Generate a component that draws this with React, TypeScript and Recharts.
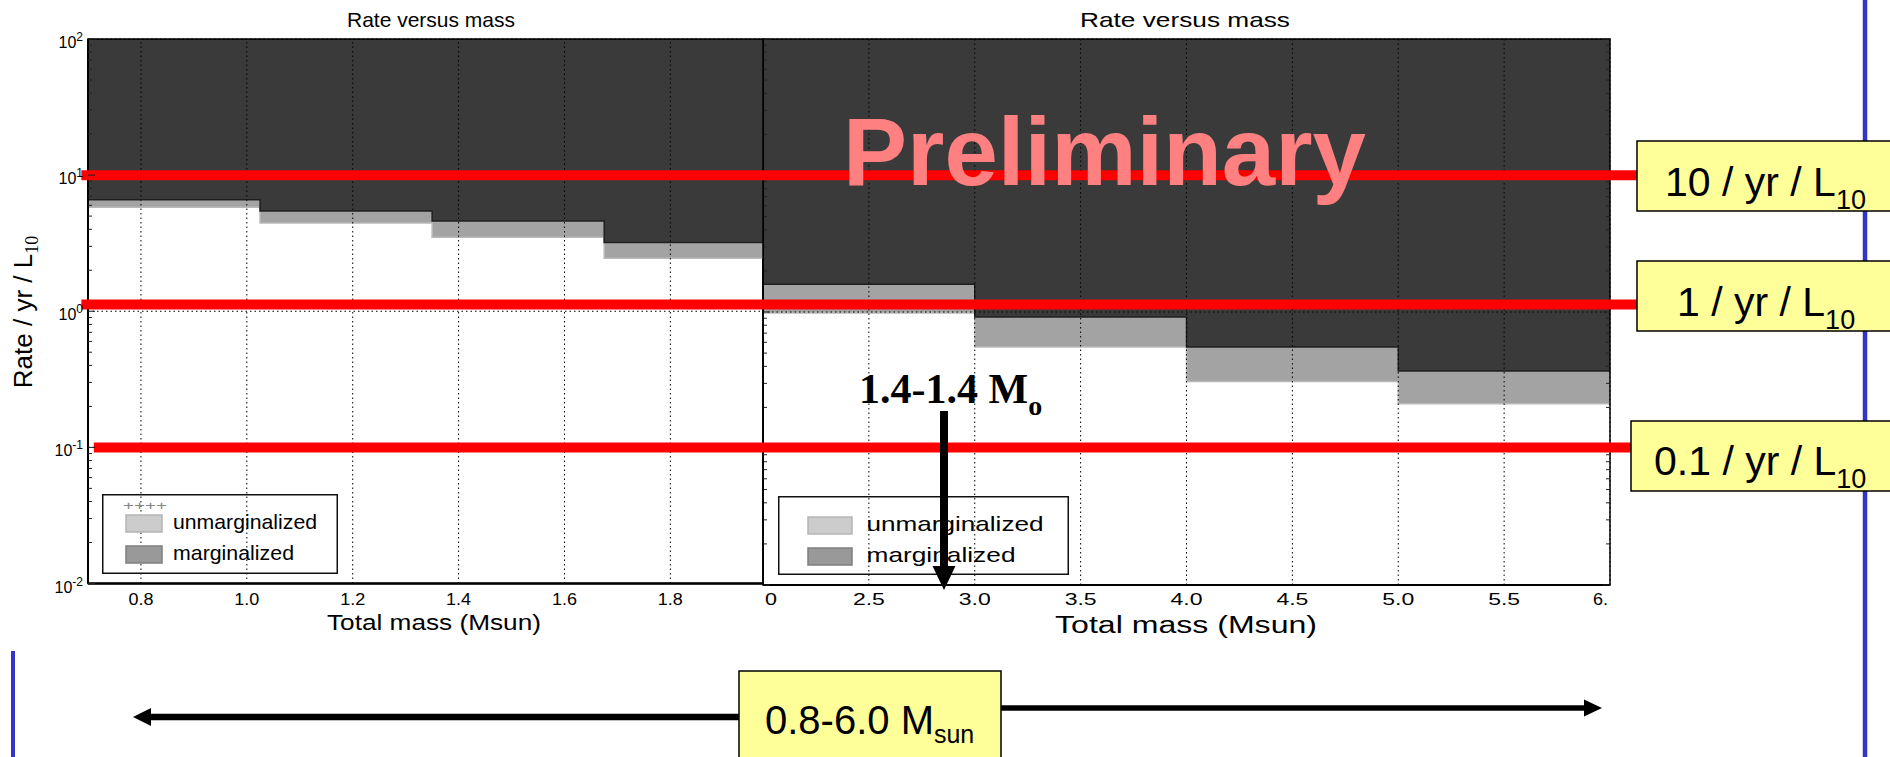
import React from "react";
import { Area, ComposedChart, Legend, ReferenceArea, ReferenceLine, XAxis, YAxis } from "recharts";

// mass bins (Msun) and rate limits (/yr/L10)
const leftBinEdges = [0.7, 1.025, 1.35, 1.675, 2.0];
const leftUpperLimit = [6.6, 5.45, 4.6, 3.2];
const leftLowerLimit = [5.8, 4.45, 3.5, 2.45];

const rightBinEdges = [2.0, 3.0, 4.0, 5.0, 6.0];
const rightUpperLimit = [1.6, 0.92, 0.555, 0.37];
const rightLowerLimit = [0.985, 0.553, 0.31, 0.213];

const leftMassTicks = [0.8, 1.0, 1.2, 1.4, 1.6, 1.8];
const rightMassTicks = [2.0, 2.5, 3.0, 3.5, 4.0, 4.5, 5.0, 5.5, 6.0];
const rateDecades = [0.01, 0.1, 1, 10, 100];
const minorMultipliers = [2, 3, 4, 5, 6, 7, 8, 9];

// red guide lines laid over both panels
const guideRates = [10, 1.12, 0.1];
const guideFrom = [0.6875, 0.6875, 0.711];
const guideTo = [3.636, 3.636, 3.625];

const legendEntries = ["unmarginalized", "marginalized"];
const legendFills = ["#cccccc", "#999999"];
const legendEdges = ["#b5b5b5", "#7f7f7f"];

const RATE_MAX = 100;
const FONT = "'Liberation Sans', Arial, Helvetica, sans-serif";
const SERIF = "'Liberation Serif', 'Times New Roman', serif";
const DARK = "#3a3a3a";
const BAND = "#a3a3a3";

const rateTicks = rateDecades.flatMap((d, i) =>
  i === rateDecades.length - 1 ? [d] : [d, ...minorMultipliers.map((m) => d * m)]
);

function buildSteps(edges: number[], upper: number[], lower: number[]) {
  return edges.map((mass, i) => {
    const k = Math.min(i, upper.length - 1);
    return { mass, band: [lower[k], upper[k]], excluded: [upper[k], RATE_MAX] };
  });
}

const leftData = buildSteps(leftBinEdges, leftUpperLimit, leftLowerLimit);
const rightData = buildSteps(rightBinEdges, rightUpperLimit, rightLowerLimit);

function RateTick(props: any) {
  const { x, y, payload, side, labelled } = props;
  const lg = Math.log10(payload.value);
  const e = Math.round(lg);
  const major = Math.abs(lg - e) < 1e-6;
  const dir = side === "right" ? -1 : 1;
  return (
    <g>
      <line x1={x} x2={x + dir * (major ? 7 : 4)} y1={y} y2={y} stroke="#222" strokeWidth={1} />
      {labelled && major && (
        <text x={x - 5} y={y + 9} textAnchor="end" fontFamily={FONT} fontSize={16} fill="#000">
          10
          <tspan dy={-7} fontSize={12}>
            {e}
          </tspan>
        </text>
      )}
    </g>
  );
}

function LeftMassTick(props: any) {
  const { x, y, payload } = props;
  return (
    <text x={x} y={y + 21} textAnchor="middle" fontFamily={FONT} fontSize={17} fill="#000"
      textLength={25} lengthAdjust="spacingAndGlyphs">
      {payload.value.toFixed(1)}
    </text>
  );
}

function RightMassTick(props: any) {
  const { x, y, payload } = props;
  const v = payload.value;
  // left end is half hidden under the first panel, right end is cut by the crop
  if (v === 2) {
    return (
      <text x={x + 2} y={y + 20} fontFamily={FONT} fontSize={17} textLength={12} lengthAdjust="spacingAndGlyphs">
        0
      </text>
    );
  }
  if (v === 6) {
    return (
      <text x={x - 17} y={y + 20} fontFamily={FONT} fontSize={17} textLength={15} lengthAdjust="spacingAndGlyphs">
        6.
      </text>
    );
  }
  return (
    <text x={x} y={y + 20} textAnchor="middle" fontFamily={FONT} fontSize={17} fill="#000"
      textLength={32} lengthAdjust="spacingAndGlyphs">
      {v.toFixed(1)}
    </text>
  );
}

function LegendBox({ w, h, px, pw, rows, tx, lens, size, plus }: any) {
  return (
    <svg width={w} height={h} style={{ display: "block" }}>
      <rect x={0.75} y={0.75} width={w - 1.5} height={h - 1.5} fill="none" stroke="#111" strokeWidth={1.5} />
      {plus && (
        <text x={21} y={16} fontFamily={FONT} fontSize={12} fill="#888" textLength={44} lengthAdjust="spacingAndGlyphs">
          ++++
        </text>
      )}
      {legendEntries.map((name, i) => (
        <g key={name}>
          <rect x={px} y={rows[i]} width={pw} height={17} fill={legendFills[i]} stroke={legendEdges[i]} strokeWidth={1.5} />
          <text x={tx} y={rows[i] + 13.5} fontFamily={FONT} fontSize={size} fill="#000"
            textLength={lens[i]} lengthAdjust="spacingAndGlyphs">
            {name}
          </text>
        </g>
      ))}
    </svg>
  );
}

function SubText({ x, y, size, main, sub, subSize, dy, family, bold }: any) {
  return (
    <text x={x} y={y} fontFamily={family || FONT} fontSize={size} fontWeight={bold ? "bold" : "normal"} fill="#000">
      {main}
      <tspan dy={dy} fontSize={subSize}>
        {sub}
      </tspan>
    </text>
  );
}

function Annotations() {
  return (
    <svg width={1890} height={757} style={{ position: "absolute", left: 0, top: 0 }}>
      <text x={843} y={185} fontFamily={FONT} fontWeight="bold" fontSize={96} fill="#ff8080">
        Preliminary
      </text>

      <line x1={1865} x2={1865} y1={0} y2={757} stroke="#3434c8" strokeWidth={4.5} />
      <line x1={13} x2={13} y1={651} y2={757} stroke="#3434c8" strokeWidth={4} />

      <rect x={1637} y={141} width={270} height={70} fill="#ffff99" stroke="#000" strokeWidth={1.5} />
      <SubText x={1665} y={196} size={41} main="10 / yr / L" sub="10" subSize={27} dy={13} />
      <rect x={1637} y={261} width={270} height={70} fill="#ffff99" stroke="#000" strokeWidth={1.5} />
      <SubText x={1677} y={316} size={41} main="1 / yr / L" sub="10" subSize={27} dy={13} />
      <rect x={1631} y={421} width={270} height={70} fill="#ffff99" stroke="#000" strokeWidth={1.5} />
      <SubText x={1654} y={475} size={41} main="0.1 / yr / L" sub="10" subSize={27} dy={13} />

      <line x1={746} x2={148} y1={717} y2={717} stroke="#000" strokeWidth={6.5} />
      <polygon points="133,717 151,708 151,726" fill="#000" />
      <line x1={1001} x2={1588} y1={708} y2={708} stroke="#000" strokeWidth={5.5} />
      <polygon points="1602,708 1584,699.5 1584,716.5" fill="#000" />
      <rect x={739} y={671} width={262} height={100} fill="#ffff99" stroke="#000" strokeWidth={1.5} />
      <SubText x={765} y={734} size={40} main="0.8-6.0 M" sub="sun" subSize={25} dy={9} />

      <SubText x={859} y={403} size={42} main="1.4-1.4 M" sub="o" subSize={28} dy={12} family={SERIF} bold />
      <line x1={944} x2={944} y1={411} y2={570} stroke="#000" strokeWidth={8} />
      <polygon points="944,590 932.5,566 955.5,566" fill="#000" />
    </svg>
  );
}

function RightPanel() {
  return (
    <ComposedChart width={1890} height={757} data={rightData}
      margin={{ top: 39, right: 270, bottom: 122, left: 743 }}>
      <XAxis dataKey="mass" type="number" domain={[2, 6]} ticks={rightMassTicks} interval={0}
        allowDataOverflow height={50} tickLine={false} tickSize={0} tickMargin={0}
        axisLine={{ stroke: "#000", strokeWidth: 2 }} tick={<RightMassTick />} />
      <YAxis yAxisId="left" scale="log" domain={[0.01, RATE_MAX]} allowDataOverflow ticks={rateTicks}
        interval={0} width={20} tickLine={false} tickSize={0} tickMargin={0}
        axisLine={{ stroke: "#000", strokeWidth: 1.5 }} tick={<RateTick side="left" />} />
      <YAxis yAxisId="right" orientation="right" scale="log" domain={[0.01, RATE_MAX]} allowDataOverflow
        ticks={rateTicks} interval={0} width={10} tickLine={false} tickSize={0} tickMargin={0}
        axisLine={false} tick={<RateTick side="right" />} />
      <Area yAxisId="left" dataKey="band" type="stepAfter" fill={BAND} fillOpacity={1} stroke="#b9b9b9"
        strokeWidth={1.5} dot={false} activeDot={false} isAnimationActive={false} />
      <Area yAxisId="left" dataKey="excluded" type="stepAfter" fill={DARK} fillOpacity={1} stroke="#1e1e1e"
        strokeWidth={1.5} dot={false} activeDot={false} isAnimationActive={false} />
      {rightMassTicks.map((m) => (
        <ReferenceLine key={"x" + m} yAxisId="left" x={m} stroke="#000" strokeWidth={1}
          strokeDasharray="1.5 3" zIndex={600} />
      ))}
      {rateDecades.map((r) => (
        <ReferenceLine key={"y" + r} yAxisId="left" y={r} stroke="#000" strokeWidth={1}
          strokeDasharray="1.5 3" zIndex={600} />
      ))}
      <ReferenceArea yAxisId="left" x1={2} x2={6} y1={0.01} y2={RATE_MAX} fill="none" fillOpacity={0}
        stroke="#000" strokeWidth={1.5} zIndex={650} />
      <Legend layout="vertical" align="center" verticalAlign="middle" width={291} height={79}
        wrapperStyle={{ left: 778, top: 496, width: 291, height: 79 }}
        content={() => (
          <LegendBox w={291} h={79} px={30} pw={44} rows={[21, 52]} tx={88.5} lens={[177, 149]} size={21} />
        )} />
      <text x={1185} y={27} textAnchor="middle" fontFamily={FONT} fontSize={21} textLength={210}
        lengthAdjust="spacingAndGlyphs">
        Rate versus mass
      </text>
      <text x={1055} y={633} fontFamily={FONT} fontSize={23} textLength={262} lengthAdjust="spacingAndGlyphs">
        Total mass (Msun)
      </text>
    </ComposedChart>
  );
}

function LeftPanel() {
  return (
    <ComposedChart width={1890} height={757} data={leftData}
      margin={{ top: 39, right: 1127, bottom: 123.5, left: 0 }}>
      <XAxis dataKey="mass" type="number" domain={[0.7, 1.975]} ticks={leftMassTicks} interval={0}
        allowDataOverflow height={50} tickLine={false} tickSize={0} tickMargin={0}
        axisLine={{ stroke: "#000", strokeWidth: 2.5 }} tick={<LeftMassTick />} />
      <YAxis scale="log" domain={[0.01, RATE_MAX]} allowDataOverflow ticks={rateTicks} interval={0}
        width={88} tickLine={false} tickSize={0} tickMargin={0}
        axisLine={{ stroke: "#000", strokeWidth: 2 }} tick={<RateTick side="left" labelled />} />
      <Area dataKey="band" type="stepAfter" fill={BAND} fillOpacity={1} stroke="#b9b9b9" strokeWidth={1.5}
        dot={false} activeDot={false} isAnimationActive={false} />
      <Area dataKey="excluded" type="stepAfter" fill={DARK} fillOpacity={1} stroke="#1e1e1e" strokeWidth={1.5}
        dot={false} activeDot={false} isAnimationActive={false} />
      {leftMassTicks.map((m) => (
        <ReferenceLine key={"x" + m} x={m} stroke="#000" strokeWidth={1} strokeDasharray="1.5 3" zIndex={600} />
      ))}
      {rateDecades.map((r) => (
        <ReferenceLine key={"y" + r} y={r} stroke="#000" strokeWidth={1} strokeDasharray="1.5 3" zIndex={600} />
      ))}
      <ReferenceArea x1={0.7} x2={1.975} y1={0.01} y2={RATE_MAX} fill="none" fillOpacity={0} stroke="#000"
        strokeWidth={1.5} zIndex={650} />
      {guideRates.map((r, i) => (
        <ReferenceLine key={"g" + r} segment={[{ x: guideFrom[i], y: r }, { x: guideTo[i], y: r }]}
          ifOverflow="visible" stroke="#ff0000" strokeWidth={10} zIndex={700} />
      ))}
      <Legend layout="vertical" align="center" verticalAlign="middle" width={236} height={80}
        wrapperStyle={{ left: 102, top: 494, width: 236, height: 80 }}
        content={() => (
          <LegendBox w={236} h={80} px={24} pw={36} rows={[21, 52]} tx={71} lens={[144, 121]} size={21} plus />
        )} />
      <text x={431} y={27} textAnchor="middle" fontFamily={FONT} fontSize={21} textLength={168}
        lengthAdjust="spacingAndGlyphs">
        Rate versus mass
      </text>
      <text x={327} y={630} fontFamily={FONT} fontSize={22} textLength={214} lengthAdjust="spacingAndGlyphs">
        Total mass (Msun)
      </text>
      <text x={32} y={312} transform="rotate(-90 32 312)" textAnchor="middle" fontFamily={FONT} fontSize={26}>
        Rate / yr / L
        <tspan dy={6} fontSize={18} fontFamily={SERIF}>
          10
        </tspan>
      </text>
    </ComposedChart>
  );
}

export default function App() {
  return (
    <div style={{ position: "absolute", left: 0, top: 0, width: 1890, height: 757, background: "#fff", overflow: "hidden" }}>
      <div style={{ position: "absolute", left: 0, top: 0 }}>
        <RightPanel />
      </div>
      <div style={{ position: "absolute", left: 0, top: 0 }}>
        <LeftPanel />
      </div>
      <Annotations />
    </div>
  );
}
